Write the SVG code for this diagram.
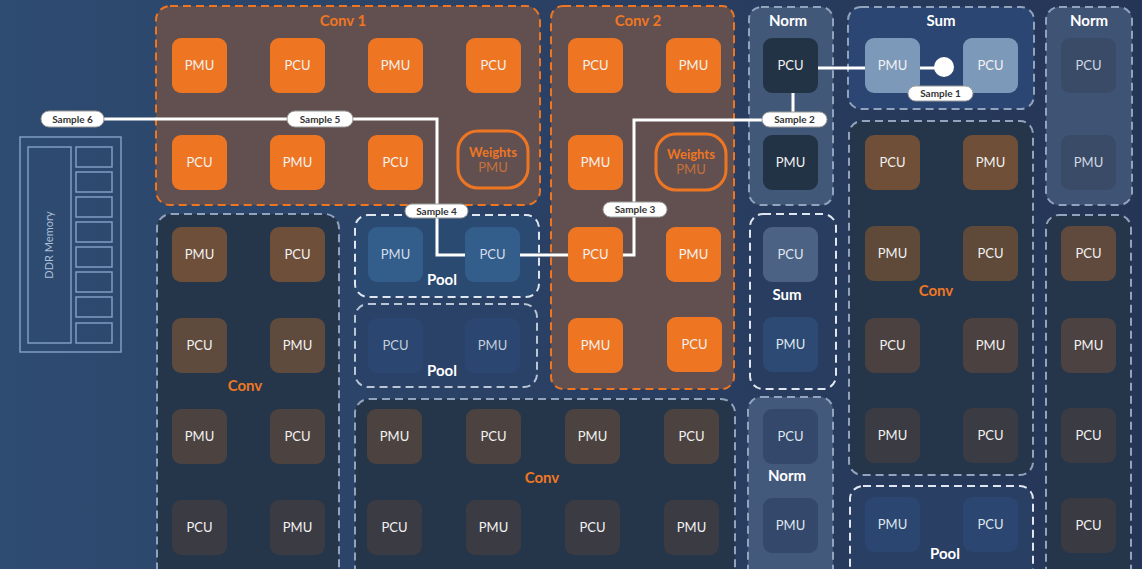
<svg xmlns="http://www.w3.org/2000/svg" width="1142" height="569" viewBox="0 0 1142 569">
  <defs>
    <linearGradient id="bg" x1="0" y1="0" x2="1" y2="0">
      <stop offset="0" stop-color="#2e4b71"/>
      <stop offset="1" stop-color="#253556"/>
    </linearGradient>
  </defs>
  <style>
    .tile { width: 55px; height: 55px; }
    .tl { font-family: Lato, "Liberation Sans", sans-serif; font-size: 13px; fill: #f2f2f2; text-anchor: middle; }
    .grp-o { stroke: #ee7623; stroke-width: 2; stroke-dasharray: 8 5; }
    .grp-g { stroke: #91a3bd; stroke-width: 2; stroke-dasharray: 8 5; }
    .grp-w { stroke: #dfe6ef; stroke-width: 2; stroke-dasharray: 8 5; }
    .glab { font-family: Lato, "Liberation Sans", sans-serif; font-size: 15px; font-weight: bold; text-anchor: middle; }
    .or { fill: #ee7623; }
    .wh { fill: #ffffff; }
    .wire { stroke: #ffffff; stroke-width: 3; fill: none; }
    .pill { fill: #ffffff; stroke: #9a9a9a; stroke-width: 1; }
    .pl { font-family: Lato, "Liberation Sans", sans-serif; font-size: 10px; font-weight: bold; fill: #333333; text-anchor: middle; }
    .ddr { fill: none; stroke: #7f9dc2; stroke-width: 1.5; }
  </style>

  <!-- backdrop -->
  <rect x="0" y="0" width="1142" height="569" fill="url(#bg)"/>

  <!-- DDR memory block -->
  <g id="ddr">
    <rect class="ddr" x="20" y="137" width="101" height="215"/>
    <rect class="ddr" x="28" y="147" width="43" height="196"/>
    <rect class="ddr" x="76" y="147" width="36" height="20"/>
    <rect class="ddr" x="76" y="172" width="36" height="20"/>
    <rect class="ddr" x="76" y="197" width="36" height="20"/>
    <rect class="ddr" x="76" y="222" width="36" height="20"/>
    <rect class="ddr" x="76" y="247" width="36" height="20"/>
    <rect class="ddr" x="76" y="272" width="36" height="20"/>
    <rect class="ddr" x="76" y="297" width="36" height="20"/>
    <rect class="ddr" x="76" y="323" width="36" height="20"/>
    <text transform="translate(53,245) rotate(-90)" font-family="Lato, 'Liberation Sans', sans-serif" font-size="11" fill="#a9bfd9" text-anchor="middle">DDR Memory</text>
  </g>

  <!-- Conv 1 -->
  <g id="conv1">
    <rect class="grp-o" x="156" y="6" width="384" height="199" rx="14" fill="#625050"/>
    <text class="glab or" x="343" y="26">Conv 1</text>
    <rect x="172" y="38" width="55" height="55" rx="9" fill="#ee7623"/><text class="tl" x="199.5" y="70">PMU</text>
    <rect x="270" y="38" width="55" height="55" rx="9" fill="#ee7623"/><text class="tl" x="297.5" y="70">PCU</text>
    <rect x="368" y="38" width="55" height="55" rx="9" fill="#ee7623"/><text class="tl" x="395.5" y="70">PMU</text>
    <rect x="466" y="38" width="55" height="55" rx="9" fill="#ee7623"/><text class="tl" x="493.5" y="70">PCU</text>
    <rect x="172" y="135" width="55" height="55" rx="9" fill="#ee7623"/><text class="tl" x="199.5" y="167">PCU</text>
    <rect x="270" y="135" width="55" height="55" rx="9" fill="#ee7623"/><text class="tl" x="297.5" y="167">PMU</text>
    <rect x="368" y="135" width="55" height="55" rx="9" fill="#ee7623"/><text class="tl" x="395.5" y="167">PCU</text>
    <rect x="458" y="131" width="70" height="57" rx="20" fill="none" stroke="#ee7623" stroke-width="3"/>
    <text class="tl" x="493" y="157" font-weight="bold" style="fill:#ee7623">Weights</text>
    <text class="tl" x="493" y="172" style="fill:#c7703a">PMU</text>
  </g>

  <!-- Conv 2 -->
  <g id="conv2">
    <rect class="grp-o" x="551" y="6" width="183" height="383" rx="12" fill="#625050"/>
    <text class="glab or" x="638" y="26">Conv 2</text>
    <rect x="568" y="38" width="55" height="55" rx="9" fill="#ee7623"/><text class="tl" x="595.5" y="70">PCU</text>
    <rect x="666" y="38" width="55" height="55" rx="9" fill="#ee7623"/><text class="tl" x="693.5" y="70">PMU</text>
    <rect x="568" y="135" width="55" height="55" rx="9" fill="#ee7623"/><text class="tl" x="595.5" y="167">PMU</text>
    <rect x="656" y="134" width="70" height="56" rx="20" fill="none" stroke="#ee7623" stroke-width="3"/>
    <text class="tl" x="691" y="159" font-weight="bold" style="fill:#ee7623">Weights</text>
    <text class="tl" x="691" y="174" style="fill:#c7703a">PMU</text>
    <rect x="568" y="227" width="55" height="55" rx="9" fill="#ee7623"/><text class="tl" x="595.5" y="259">PCU</text>
    <rect x="666" y="227" width="55" height="55" rx="9" fill="#ee7623"/><text class="tl" x="693.5" y="259">PMU</text>
    <rect x="568" y="318" width="55" height="55" rx="9" fill="#ee7623"/><text class="tl" x="595.5" y="350">PMU</text>
    <rect x="667" y="317" width="55" height="55" rx="9" fill="#ee7623"/><text class="tl" x="694.5" y="349">PCU</text>
  </g>

  <!-- Conv (lower left) -->
  <g id="conv-left">
    <rect class="grp-g" x="157" y="214" width="182" height="370" rx="14" fill="#25364a"/>
    <text class="glab or" x="245" y="391">Conv</text>
    <rect x="172" y="227" width="55" height="55" rx="9" fill="#6d4f3a"/><text class="tl" x="199.5" y="259">PMU</text>
    <rect x="270" y="227" width="55" height="55" rx="9" fill="#6d4f3a"/><text class="tl" x="297.5" y="259">PCU</text>
    <rect x="172" y="318" width="55" height="55" rx="9" fill="#5f4a3e"/><text class="tl" x="199.5" y="350">PCU</text>
    <rect x="270" y="318" width="55" height="55" rx="9" fill="#5f4a3e"/><text class="tl" x="297.5" y="350">PMU</text>
    <rect x="172" y="409" width="55" height="55" rx="9" fill="#4c4340"/><text class="tl" x="199.5" y="441">PMU</text>
    <rect x="270" y="409" width="55" height="55" rx="9" fill="#4c4340"/><text class="tl" x="297.5" y="441">PCU</text>
    <rect x="172" y="500" width="55" height="55" rx="9" fill="#3b3b44"/><text class="tl" x="199.5" y="532">PCU</text>
    <rect x="270" y="500" width="55" height="55" rx="9" fill="#3b3b44"/><text class="tl" x="297.5" y="532">PMU</text>
  </g>

  <!-- Pool (upper) -->
  <g id="pool1">
    <rect class="grp-w" x="355" y="215" width="184" height="82" rx="13" fill="#2b4a72"/>
    <rect x="368" y="227" width="55" height="55" rx="9" fill="#335d8b"/><text class="tl" x="395.5" y="259" style="fill:#d5deea">PMU</text>
    <rect x="465" y="227" width="55" height="55" rx="9" fill="#335d8b"/><text class="tl" x="492.5" y="259" style="fill:#d5deea">PCU</text>
    <text class="glab wh" x="442" y="285">Pool</text>
  </g>

  <!-- Pool (lower) -->
  <g id="pool2">
    <rect class="grp-g" x="355" y="304" width="182" height="83" rx="13" fill="#2a4168" style="stroke:#b9c6d6"/>
    <rect x="368" y="318" width="55" height="55" rx="9" fill="#2b4670"/><text class="tl" x="395.5" y="350" style="fill:#c3cfdd">PCU</text>
    <rect x="465" y="318" width="55" height="55" rx="9" fill="#2b4670"/><text class="tl" x="492.5" y="350" style="fill:#c3cfdd">PMU</text>
    <text class="glab wh" x="442" y="376">Pool</text>
  </g>

  <!-- Conv (bottom centre) -->
  <g id="conv-bottom">
    <rect class="grp-g" x="355" y="399" width="380" height="185" rx="14" fill="#25364a"/>
    <text class="glab or" x="542" y="483">Conv</text>
    <rect x="367" y="409" width="55" height="55" rx="9" fill="#4c4340"/><text class="tl" x="394.5" y="441">PMU</text>
    <rect x="466" y="409" width="55" height="55" rx="9" fill="#4c4340"/><text class="tl" x="493.5" y="441">PCU</text>
    <rect x="565" y="409" width="55" height="55" rx="9" fill="#4c4340"/><text class="tl" x="592.5" y="441">PMU</text>
    <rect x="664" y="409" width="55" height="55" rx="9" fill="#4c4340"/><text class="tl" x="691.5" y="441">PCU</text>
    <rect x="367" y="500" width="55" height="55" rx="9" fill="#3b3b44"/><text class="tl" x="394.5" y="532">PCU</text>
    <rect x="466" y="500" width="55" height="55" rx="9" fill="#3b3b44"/><text class="tl" x="493.5" y="532">PMU</text>
    <rect x="565" y="500" width="55" height="55" rx="9" fill="#3b3b44"/><text class="tl" x="592.5" y="532">PCU</text>
    <rect x="664" y="500" width="55" height="55" rx="9" fill="#3b3b44"/><text class="tl" x="691.5" y="532">PMU</text>
  </g>

  <!-- Norm (top, middle column) -->
  <g id="norm-top">
    <rect class="grp-g" x="749" y="7" width="84" height="198" rx="12" fill="#425879"/>
    <text class="glab wh" x="788" y="26">Norm</text>
    <rect x="763" y="38" width="55" height="55" rx="9" fill="#223345"/><text class="tl" x="790.5" y="70">PCU</text>
    <rect x="763" y="135" width="55" height="55" rx="9" fill="#223345"/><text class="tl" x="790.5" y="167">PMU</text>
  </g>

  <!-- Sum (middle column) -->
  <g id="sum-mid">
    <rect class="grp-w" x="750" y="214" width="86" height="175" rx="13" fill="#293d60"/>
    <rect x="763" y="227" width="55" height="55" rx="9" fill="#4b6285"/><text class="tl" x="790.5" y="259" style="fill:#dfe6ef">PCU</text>
    <text class="glab wh" x="787" y="300">Sum</text>
    <rect x="763" y="317" width="55" height="55" rx="9" fill="#2c4a73"/><text class="tl" x="790.5" y="349" style="fill:#dfe6ef">PMU</text>
  </g>

  <!-- Norm (bottom, middle column) -->
  <g id="norm-bottom">
    <rect class="grp-g" x="748" y="397" width="85" height="187" rx="13" fill="#43597b"/>
    <rect x="763" y="409" width="55" height="55" rx="9" fill="#33486a"/><text class="tl" x="790.5" y="441" style="fill:#dfe6ef">PCU</text>
    <text class="glab wh" x="787" y="481">Norm</text>
    <rect x="763" y="498" width="55" height="55" rx="9" fill="#33486a"/><text class="tl" x="790.5" y="530" style="fill:#dfe6ef">PMU</text>
  </g>

  <!-- Sum (top) -->
  <g id="sum-top">
    <rect class="grp-g" x="848" y="7" width="186" height="102" rx="13" fill="#2b4672"/>
    <text class="glab wh" x="941" y="26">Sum</text>
    <rect x="865" y="38" width="55" height="55" rx="9" fill="#7d99ba"/><text class="tl" x="892.5" y="70">PMU</text>
    <rect x="963" y="38" width="55" height="55" rx="9" fill="#7d99ba"/><text class="tl" x="990.5" y="70">PCU</text>
  </g>

  <!-- Conv (right) -->
  <g id="conv-right">
    <rect class="grp-g" x="849" y="121" width="184" height="354" rx="13" fill="#25364a"/>
    <text class="glab or" x="936" y="296">Conv</text>
    <rect x="865" y="135" width="55" height="55" rx="9" fill="#6f4f38"/><text class="tl" x="892.5" y="167">PCU</text>
    <rect x="963" y="135" width="55" height="55" rx="9" fill="#6f4f38"/><text class="tl" x="990.5" y="167">PMU</text>
    <rect x="865" y="226" width="55" height="55" rx="9" fill="#5f4939"/><text class="tl" x="892.5" y="258">PMU</text>
    <rect x="963" y="226" width="55" height="55" rx="9" fill="#5f4939"/><text class="tl" x="990.5" y="258">PCU</text>
    <rect x="865" y="318" width="55" height="55" rx="9" fill="#4b4140"/><text class="tl" x="892.5" y="350">PCU</text>
    <rect x="963" y="318" width="55" height="55" rx="9" fill="#4b4140"/><text class="tl" x="990.5" y="350">PMU</text>
    <rect x="865" y="408" width="55" height="55" rx="9" fill="#3b3b43"/><text class="tl" x="892.5" y="440">PMU</text>
    <rect x="963" y="408" width="55" height="55" rx="9" fill="#3b3b43"/><text class="tl" x="990.5" y="440">PCU</text>
  </g>

  <!-- Pool (bottom right) -->
  <g id="pool3">
    <rect class="grp-w" x="850" y="486" width="183" height="100" rx="13" fill="#293f63"/>
    <rect x="865" y="497" width="55" height="55" rx="9" fill="#2b4670"/><text class="tl" x="892.5" y="529" style="fill:#dfe6ef">PMU</text>
    <rect x="963" y="497" width="55" height="55" rx="9" fill="#2b4670"/><text class="tl" x="990.5" y="529" style="fill:#dfe6ef">PCU</text>
    <text class="glab wh" x="945" y="559">Pool</text>
  </g>

  <!-- Norm (top right) -->
  <g id="norm-right">
    <rect class="grp-g" x="1046" y="7" width="86" height="198" rx="13" fill="#3f5375"/>
    <text class="glab wh" x="1089" y="26">Norm</text>
    <rect x="1061" y="38" width="55" height="55" rx="9" fill="#3a4b67"/><text class="tl" x="1088.5" y="70" style="fill:#d0d8e3">PCU</text>
    <rect x="1061" y="135" width="55" height="55" rx="9" fill="#3a4b67"/><text class="tl" x="1088.5" y="167" style="fill:#d0d8e3">PMU</text>
  </g>

  <!-- column (bottom right) -->
  <g id="col-right">
    <rect class="grp-g" x="1046" y="215" width="85" height="370" rx="13" fill="#25354a"/>
    <rect x="1061" y="226" width="55" height="55" rx="9" fill="#604a3d"/><text class="tl" x="1088.5" y="258">PCU</text>
    <rect x="1061" y="318" width="55" height="55" rx="9" fill="#4c4241"/><text class="tl" x="1088.5" y="350">PMU</text>
    <rect x="1061" y="408" width="55" height="55" rx="9" fill="#3a3b43"/><text class="tl" x="1088.5" y="440">PCU</text>
    <rect x="1061" y="498" width="55" height="55" rx="9" fill="#3a3a43"/><text class="tl" x="1088.5" y="530">PCU</text>
  </g>

  <!-- sample path -->
  <g id="connectors">
    <polyline class="wire" points="920,68 944,68"/>
    <polyline class="wire" points="818,68 865,68"/>
    <polyline class="wire" points="793,93 793,120 634,120 634,255 623,255"/>
    <polyline class="wire" points="568,255 520,255"/>
    <polyline class="wire" points="465,255 437,255 437,119 70,119"/>
    <circle cx="944" cy="67" r="10" fill="#ffffff"/>

    <rect class="pill" x="908" y="86" width="65" height="15" rx="7.5"/>
    <text class="pl" x="940.5" y="97">Sample  1</text>
    <rect class="pill" x="762" y="112" width="65" height="15" rx="7.5"/>
    <text class="pl" x="794.5" y="123">Sample  2</text>
    <rect class="pill" x="603" y="202" width="64" height="15" rx="7.5"/>
    <text class="pl" x="635" y="213">Sample  3</text>
    <rect class="pill" x="405" y="204" width="63" height="14" rx="7"/>
    <text class="pl" x="436.5" y="214.5">Sample  4</text>
    <rect class="pill" x="287" y="111" width="66" height="16" rx="8"/>
    <text class="pl" x="320" y="122.5">Sample  5</text>
    <rect class="pill" x="41" y="111" width="63" height="16" rx="8"/>
    <text class="pl" x="72.5" y="122.5">Sample  6</text>
  </g>
</svg>
